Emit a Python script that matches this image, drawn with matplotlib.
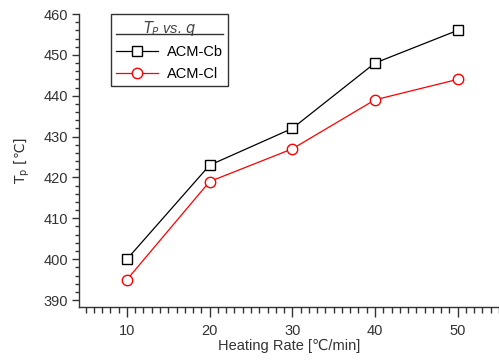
import matplotlib
matplotlib.use("Agg")
import matplotlib.pyplot as plt
from matplotlib.ticker import MultipleLocator
from matplotlib.lines import Line2D

plt.rcParams.update({
    "font.family": ["Liberation Sans", "DejaVu Sans"],
    "font.size": 10.5,
    "axes.unicode_minus": False,
    "mathtext.fontset": "custom",
    "mathtext.rm": "DejaVu Sans",
    "mathtext.it": "DejaVu Sans:italic",
})

rates = [10, 20, 30, 40, 50]
tp_cb = [400, 423, 432, 448, 456]
tp_cl = [395, 419, 427, 439, 444]

INK = "#333333"

fig = plt.figure(figsize=(4.99, 3.63), dpi=100)
ax = fig.add_axes([79 / 499, 1 - 307 / 363, 1 - 79 / 499, (307 - 14) / 363])

ax.plot(rates, tp_cb, color="black", lw=0.9, marker="s", ms=7,
        mfc="white", mec="black", mew=1.0, label="ACM-Cb")
ax.plot(rates, tp_cl, color="red", lw=0.9, marker="o", ms=7.5,
        mfc="white", mec="red", mew=1.0, label="ACM-Cl")

ax.set_xlim(4.2, 55)
ax.set_ylim(388.3, 460)
ax.xaxis.set_major_locator(MultipleLocator(10))
ax.xaxis.set_minor_locator(MultipleLocator(1))
ax.yaxis.set_major_locator(MultipleLocator(10))
ax.yaxis.set_minor_locator(MultipleLocator(2))
ax.set_yticks(range(390, 461, 10))

for s in ("top", "right"):
    ax.spines[s].set_visible(False)
for s in ("left", "bottom"):
    ax.spines[s].set_color(INK)
    ax.spines[s].set_linewidth(1.0)

ax.tick_params(axis="y", which="major", direction="out", length=5, width=1,
               color=INK, labelcolor=INK, pad=3)
ax.tick_params(axis="y", which="minor", direction="out", length=3, width=1,
               color=INK)
ax.tick_params(axis="x", which="major", direction="out", length=7, width=1,
               color=INK, labelcolor=INK, pad=5)
ax.tick_params(axis="x", which="minor", direction="out", length=4, width=1,
               color=INK)

ax.set_xlabel("Heating Rate [\u2103/min]", color=INK, labelpad=1)
ax.set_ylabel("T$_\\mathrm{p}$ [\u2103]", color=INK, labelpad=8, fontsize=10,
              fontfamily="DejaVu Sans")

leg = ax.legend(loc="upper left", bbox_to_anchor=(0.076, 1.0),
                borderaxespad=0, fancybox=False, edgecolor="#333333",
                framealpha=1, title="$T_P$ vs. $q$",
                handlelength=2.9, handletextpad=0.6, labelspacing=0.5,
                borderpad=0.35)
leg.get_frame().set_linewidth(1.0)
leg.get_title().set_fontstyle("italic")
leg.get_title().set_color("#444444")

fig.canvas.draw()
lb = leg.get_window_extent()
bb = leg.get_title().get_window_extent()
W, H = fig.bbox.width, fig.bbox.height
y0 = bb.y0 + bb.height * 0.2
fig.add_artist(Line2D([(lb.x0 + 5) / W, (lb.x1 - 5) / W],
                      [y0 / H, y0 / H], transform=fig.transFigure,
                      color="#333333", lw=1.0))

fig.savefig("out.png", dpi=100)
